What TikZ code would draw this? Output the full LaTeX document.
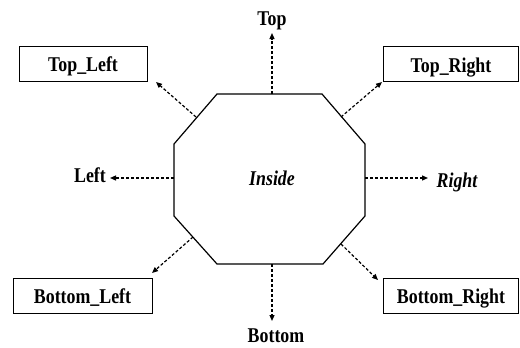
\documentclass[tikz,border=0pt]{standalone}
\usepackage{fontspec}
\setmainfont{Liberation Serif}[FakeStretch=0.85]
\usetikzlibrary{arrows.meta}
\tikzset{
  lbl/.style={font=\fontsize{21}{23}\selectfont\bfseries, inner sep=0pt},
  ilbl/.style={font=\fontsize{21}{23}\selectfont\bfseries\itshape, inner sep=0pt},
  box/.style={draw, line width=1pt, inner sep=0pt, minimum width=#1, minimum height=35pt,
    font=\fontsize{21}{23}\selectfont\bfseries, text height=16.5pt, text depth=0pt},
  oct/.style={draw, line width=1.2pt},
  arr/.style={line width=1.2pt, dash pattern=on 3pt off 2pt, -{Triangle[length=6pt,width=5pt]}}
}
\begin{document}
\begin{tikzpicture}[x=1pt,y=-1pt]
\useasboundingbox (0,0) rectangle (520,348);
% octagon
\coordinate (o1) at (217,94);
\coordinate (o2) at (322,94);
\coordinate (o3) at (365,144);
\coordinate (o4) at (365,216);
\coordinate (o5) at (323,264);
\coordinate (o6) at (217,264);
\coordinate (o7) at (174,216);
\coordinate (o8) at (174,144);
\draw[oct] (o1) -- (o2) -- (o3) -- (o4) -- (o5) -- (o6) -- (o7) -- (o8) -- cycle;
\node[ilbl, anchor=base] (inside) at (272,185) {Inside};
% boxes
\node[box=128pt] (tl) at (83,63.5) {Top\_Left};
\node[box=135pt] (tr) at (451,64) {Top\_Right};
\node[box=139pt] (bl) at (82.5,295.5) {Bottom\_Left};
\node[box=135pt] (br) at (451,295.5) {Bottom\_Right};
% plain labels
\node[lbl, anchor=base] (top) at (272,25) {Top};
\node[lbl, anchor=base] (left) at (90,182) {Left};
\node[ilbl, anchor=base] (right) at (457,187) {Right};
\node[lbl, anchor=base] (bottom) at (276,342) {Bottom};
% arrow start points on the octagon
\coordinate (topS) at (272,94);
\coordinate (tlS) at (196,117);
\coordinate (trS) at (341,117);
\coordinate (lS) at (174,178);
\coordinate (rS) at (365,178);
\coordinate (blS) at (193,237);
\coordinate (brS) at (341,244);
\coordinate (bS) at (272,264);
% arrow ends
\coordinate (topE) at (272,33);
\coordinate (tlE) at (156,82);
\coordinate (trE) at (382,82);
\coordinate (lE) at (110,178);
\coordinate (rE) at (428,178);
\coordinate (blE) at (152,273);
\coordinate (brE) at (378,280);
\coordinate (bE) at (272,321);
\draw[arr] (topS) -- (topE);
\draw[arr] (tlS) -- (tlE);
\draw[arr] (trS) -- (trE);
\draw[arr] (lS) -- (lE);
\draw[arr] (rS) -- (rE);
\draw[arr] (blS) -- (blE);
\draw[arr] (brS) -- (brE);
\draw[arr] (bS) -- (bE);
\end{tikzpicture}
\end{document}
